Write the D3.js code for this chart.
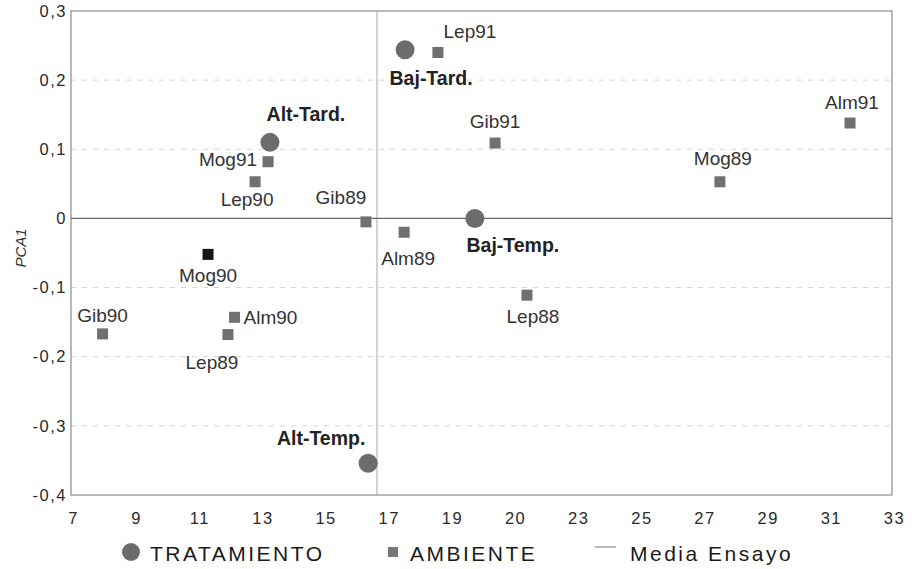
<!DOCTYPE html>
<html>
<head>
<meta charset="utf-8">
<script src="https://cdnjs.cloudflare.com/ajax/libs/d3/7.8.5/d3.min.js"></script>
<style>
  body { margin: 0; background: #fff; }
  text { font-family: "Liberation Sans", Arial, sans-serif; }
</style>
</head>
<body>
<div id="vis"><svg></svg></div>
<script>
// treatment points (circles)
var tratNames = ["Baj-Tard.", "Alt-Tard.", "Baj-Temp.", "Alt-Temp."];
var tratX = [17.58, 13.30, 19.79, 16.41];
var tratY = [0.244, 0.110, 0.0, -0.354];

// environment points (squares)
var ambNames = ["Lep91", "Gib91", "Alm91", "Mog89", "Mog91", "Lep90", "Gib89", "Alm89", "Mog90", "Gib90", "Alm90", "Lep89", "Lep88"];
var ambX = [18.62, 20.43, 31.67, 27.55, 13.24, 12.83, 16.34, 17.55, 11.34, 8.00, 12.18, 11.97, 21.44];
var ambY = [0.240, 0.109, 0.138, 0.053, 0.082, 0.053, -0.005, -0.020, -0.052, -0.167, -0.143, -0.168, -0.111];

// trial mean (Media Ensayo)
var mediaX = 16.69;
var mediaY = 0;

// axis ticks
var xTicks = [7, 9, 11, 13, 15, 17, 19, 21, 23, 25, 27, 29, 31, 33];
var xTickLabels = ["7", "9", "11", "13", "15", "17", "19", "20", "23", "25", "27", "29", "31", "33"];
var yTicks = [0.3, 0.2, 0.1, 0, -0.1, -0.2, -0.3, -0.4];
var yTickLabels = ["0,3", "0,2", "0,1", "0", "-0,1", "-0,2", "-0,3", "-0,4"];

// label placement (dx, dy from the mark to the label centre, text-anchor)
var labelPos = {
  "Baj-Tard.": [26, 28, "middle"], "Alt-Tard.": [36, -28, "middle"],
  "Baj-Temp.": [38, 27, "middle"], "Alt-Temp.": [-47, -25, "middle"],
  "Lep91": [32, -21, "middle"], "Gib91": [0, -22, "middle"], "Alm91": [2, -21, "middle"],
  "Mog89": [3, -23, "middle"], "Mog91": [-11, -2, "end"], "Lep90": [-8, 18, "middle"],
  "Gib89": [-25, -25, "middle"], "Alm89": [4, 26, "middle"], "Mog90": [0, 21, "middle"],
  "Gib90": [0, -19, "middle"], "Alm90": [9, 0, "start"], "Lep89": [-16, 28, "middle"],
  "Lep88": [6, 21, "middle"]
};

var margin = {top: 11, right: 26, bottom: 74, left: 71},
    width = 918 - margin.left - margin.right,
    height = 569 - margin.top - margin.bottom;

var root = d3.select("#vis").select("svg")
    .attr("width", 918)
    .attr("height", 569);

var svg = root.append("g")
    .attr("transform", "translate(" + margin.left + "," + margin.top + ")");

var x = d3.scaleLinear().domain([7, 33]).range([0, width]);
var y = d3.scaleLinear().domain([-0.4, 0.3]).range([height, 0]);

// dashed grid
svg.append("g")
    .selectAll("line")
    .data(yTicks.filter(function(d){ return d != 0.3 && d != -0.4 && d != 0; }))
    .join("line")
    .attr("x1", 0).attr("x2", width)
    .attr("y1", d => y(d)).attr("y2", d => y(d))
    .attr("stroke", "#d4d4d4")
    .attr("stroke-dasharray", "5,6");

// frame
svg.append("rect")
    .attr("width", width).attr("height", height)
    .attr("fill", "none").attr("stroke", "#8a8a8a").attr("stroke-width", 1.2);

// mean lines
svg.append("line")
    .attr("x1", x(mediaX)).attr("x2", x(mediaX))
    .attr("y1", 0).attr("y2", height)
    .attr("stroke", "#a8a8a8").attr("stroke-width", 1);
svg.append("line")
    .attr("x1", 0).attr("x2", width)
    .attr("y1", y(mediaY)).attr("y2", y(mediaY))
    .attr("stroke", "#6a6a6a").attr("stroke-width", 1.3);

// axes
var xAxis = svg.append("g")
    .attr("transform", "translate(0," + height + ")")
    .call(d3.axisBottom(x).tickValues(xTicks).tickSize(0).tickPadding(17)
        .tickFormat(function(d, i){ return xTickLabels[i]; }));
var yAxis = svg.append("g")
    .call(d3.axisLeft(y).tickValues(yTicks).tickSize(0).tickPadding(4)
        .tickFormat(function(d, i){ return yTickLabels[i]; }));
[xAxis, yAxis].forEach(function(a){
  a.select(".domain").remove();
  a.selectAll("text").attr("font-size", 16.5).attr("fill", "#2a2a2a")
    .attr("letter-spacing", 1.5)
    .attr("font-family", "Liberation Sans, Arial, sans-serif");
});
xAxis.selectAll("text").attr("dx", 2);

root.append("text")
    .attr("transform", "translate(21,248) rotate(-90)")
    .attr("text-anchor", "middle")
    .attr("dy", "0.35em")
    .attr("font-size", 15).attr("font-style", "italic").attr("fill", "#333")
    .text("PCA1");

// squares
var amb = ambNames.map(function(n, i){ return {name: n, x: ambX[i], y: ambY[i]}; });
svg.append("g").selectAll("rect")
    .data(amb)
    .join("rect")
    .attr("x", d => x(d.x) - 5.5).attr("y", d => y(d.y) - 5.5)
    .attr("width", 11).attr("height", 11)
    .attr("fill", d => d.name == "Mog90" ? "#151515" : "#707070");

// circles
var trat = tratNames.map(function(n, i){ return {name: n, x: tratX[i], y: tratY[i]}; });
svg.append("g").selectAll("circle")
    .data(trat)
    .join("circle")
    .attr("cx", d => x(d.x)).attr("cy", d => y(d.y))
    .attr("r", 9.5)
    .attr("fill", "#6c6c6c");

// labels
svg.append("g").selectAll("text")
    .data(amb.concat(trat))
    .join("text")
    .attr("x", d => x(d.x) + labelPos[d.name][0])
    .attr("y", d => y(d.y) + labelPos[d.name][1])
    .attr("dy", "0.35em")
    .attr("text-anchor", d => labelPos[d.name][2])
    .attr("font-size", d => tratNames.indexOf(d.name) >= 0 ? 19.5 : 19)
    .attr("font-weight", d => tratNames.indexOf(d.name) >= 0 ? "bold" : "normal")
    .attr("fill", d => tratNames.indexOf(d.name) >= 0 ? "#222" : "#333")
    .text(d => d.name);

// legend
var leg = root.append("g").attr("transform", "translate(0,552)");
leg.append("circle").attr("cx", 131).attr("cy", 0).attr("r", 9).attr("fill", "#6c6c6c");
leg.append("text").attr("x", 150).attr("y", 9).text("TRATAMIENTO");
leg.append("rect").attr("x", 388).attr("y", -5).attr("width", 10).attr("height", 10).attr("fill", "#777");
leg.append("text").attr("x", 410).attr("y", 9).text("AMBIENTE");
leg.append("line").attr("x1", 595).attr("x2", 616).attr("y1", -5).attr("y2", -5)
    .attr("stroke", "#888").attr("stroke-width", 1.2);
leg.append("text").attr("x", 630).attr("y", 9).text("Media Ensayo");
leg.selectAll("text").attr("font-size", 21).attr("letter-spacing", 2.5).attr("fill", "#1a1a1a");
</script>
</body>
</html>
